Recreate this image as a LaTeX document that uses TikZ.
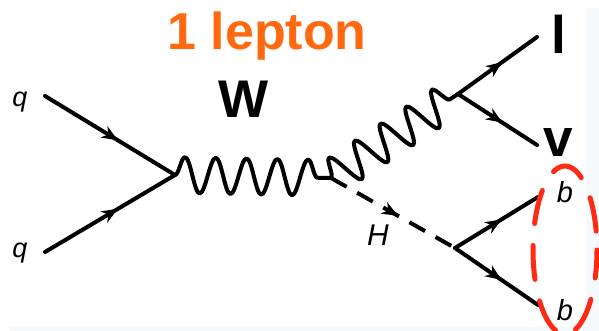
\documentclass[tikz,border=0pt]{standalone}
\usepackage{fontspec}
\setmainfont{Liberation Sans}
\usetikzlibrary{
  arrows.meta,
  decorations.markings,
  decorations.pathmorphing,
  positioning
}
\definecolor{FeynOrange}{HTML}{FF6A10}
\definecolor{FeynRed}{HTML}{FF2A14}
\definecolor{FeynInk}{HTML}{000000}
\definecolor{FeynSlide}{HTML}{F6F9FC}
\tikzset{
  >=Stealth,
  every picture/.style = {line join=round, line cap=round},
  every node/.style = {text=FeynInk, inner sep=0pt, anchor=base},
  fermion/.style = {
    draw=FeynInk,
    line width=4pt,
    postaction={decorate},
    decoration={markings,
      mark=at position 0.56 with {\arrow{Stealth[length=16pt,width=13pt,inset=5pt]}}}
  },
  boson/.style = {
    draw=FeynInk,
    line width=4pt,
    decorate,
    decoration={snake, segment length=30.8pt, amplitude=18pt}
  },
  scalar/.style = {
    draw=FeynInk,
    line width=4pt,
    line cap=butt,
    dash pattern=on 18pt off 12pt,
    postaction={decorate},
    decoration={markings,
      mark=at position 0.54 with {\arrow{Stealth[length=16pt,width=13pt,inset=5pt]}}}
  },
  jet ring/.style = {
    draw=FeynRed,
    line width=5pt,
    dash pattern=on 34pt off 22pt,
    dash phase=6pt
  },
  title label/.style = {
    font=\fontsize{52}{52}\selectfont\bfseries,
    text=FeynOrange
  },
  big label/.style = {font=\fontsize{53}{53}\selectfont\bfseries},
  quark label/.style = {font=\fontsize{27}{27}\selectfont\itshape},
  jet label/.style = {font=\fontsize{29}{29}\selectfont\itshape},
}

\begin{document}
\begin{tikzpicture}[x=1pt,y=-1pt]
  \useasboundingbox (0,0) rectangle (599,331);
  \fill[FeynSlide] (587,8) rectangle (599,331);
  \fill[FeynSlide] (10,327) rectangle (599,331);

  % vertices
  \coordinate (vqq) at (175,175);
  \coordinate (vwh) at (331,178);
  \coordinate (vlv) at (458,94);
  \coordinate (vbb) at (455,248);

  % outer ends
  \coordinate (qa) at (45,96);
  \coordinate (qb) at (45,252);
  \coordinate (lep) at (537,37);
  \coordinate (nu) at (537,145);
  \coordinate (ba) at (538,197);
  \coordinate (bb) at (538,305);

  \draw[fermion] (qa) -- (vqq);
  \draw[fermion] (qb) -- (vqq);
  \draw[boson] (vqq) -- (vwh);
  \draw[boson] (vwh) -- (vlv);
  \draw[scalar] (vwh) -- (vbb);
  \draw[fermion] (vlv) -- (lep);
  \draw[fermion] (vlv) -- (nu);
  \draw[fermion] (vbb) -- (ba);
  \draw[fermion] (vbb) -- (bb);

  \draw[jet ring] (565,250) ellipse [x radius=32, y radius=84];

  % labels
  \node[title label] (title) at (267,50) {1 lepton};
  \node[big label] (wlab) at (244,118) {W};
  \node[big label] (llab) at (559,54) {l};
  \node[big label] (vlab) at (558,157) {v};
  \node[quark label] (qalab) at (20,107) {q};
  \node[quark label] (qblab) at (20,257) {q};
  \node[quark label, font=\fontsize{30}{30}\selectfont\itshape] (hlab) at (378,245) {H};
  \node[jet label] (balab) at (565,202) {b};
  \node[jet label] (bblab) at (565,320) {b};
\end{tikzpicture}
\end{document}
